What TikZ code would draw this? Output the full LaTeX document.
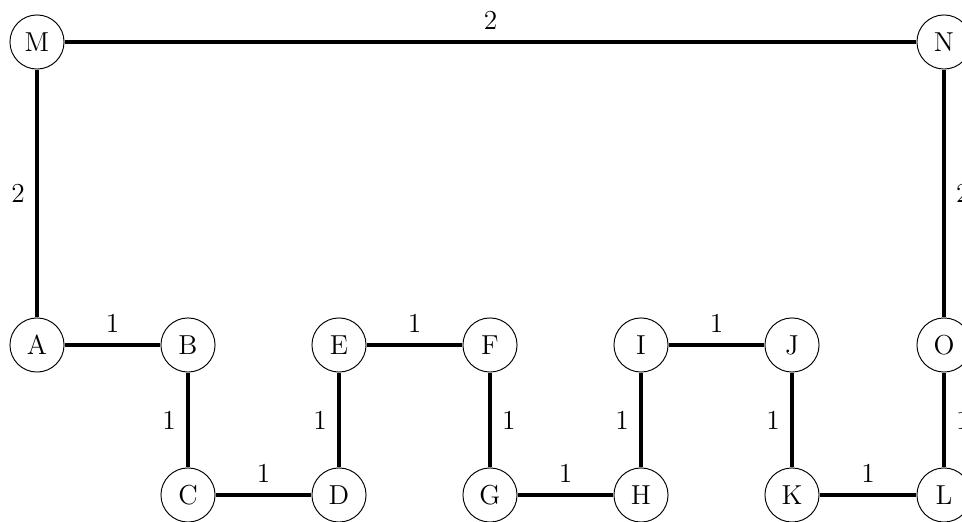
\documentclass[tikz,border=0pt]{standalone}
\begin{document}
\begin{tikzpicture}[x=0.525pt,y=-0.525pt,
  vtx/.style={draw,circle,line width=0.5pt,minimum size=28.4pt,inner sep=0pt,font=\Large},
  edge/.style={line width=1.7pt},
  lab/.style={font=\Large,inner sep=5.5pt}]
\useasboundingbox (0,0) rectangle (962,522);
\node[vtx] (M) at (37,42) {M};
\node[vtx] (N) at (944,42) {N};
\node[vtx] (A) at (37,345) {A};
\node[vtx] (B) at (188,345) {B};
\node[vtx] (C) at (188,495) {C};
\node[vtx] (D) at (339,495) {D};
\node[vtx] (E) at (339,345) {E};
\node[vtx] (F) at (490,345) {F};
\node[vtx] (G) at (490,495) {G};
\node[vtx] (H) at (641,495) {H};
\node[vtx] (I) at (641,345) {I};
\node[vtx] (J) at (792,345) {J};
\node[vtx] (K) at (792,495) {K};
\node[vtx] (L) at (944,495) {L};
\node[vtx] (O) at (944,345) {O};
\draw[edge] (M) -- node[above,lab] {2} (N);
\draw[edge] (M) -- node[left,lab] {2} (A);
\draw[edge] (N) -- node[right,lab] {2} (O);
\draw[edge] (A) -- node[above,lab] {1} (B);
\draw[edge] (B) -- node[left,lab] {1} (C);
\draw[edge] (C) -- node[above,lab] {1} (D);
\draw[edge] (D) -- node[left,lab] {1} (E);
\draw[edge] (E) -- node[above,lab] {1} (F);
\draw[edge] (F) -- node[right,lab] {1} (G);
\draw[edge] (G) -- node[above,lab] {1} (H);
\draw[edge] (H) -- node[left,lab] {1} (I);
\draw[edge] (I) -- node[above,lab] {1} (J);
\draw[edge] (J) -- node[left,lab] {1} (K);
\draw[edge] (K) -- node[above,lab] {1} (L);
\draw[edge] (L) -- node[right,lab] {1} (O);
\end{tikzpicture}
\end{document}
